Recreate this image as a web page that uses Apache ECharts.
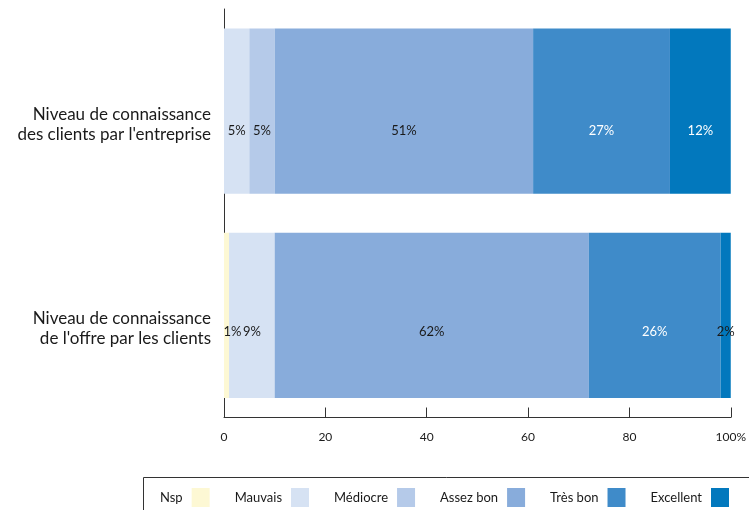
<!DOCTYPE html>
<html>
<head>
<meta charset="utf-8">
<script src="https://cdn.jsdelivr.net/npm/echarts@6/dist/echarts.min.js"></script>
<style>
  html, body { margin: 0; padding: 0; background: #fff; }
  #chart { width: 749px; height: 510px; }
</style>
</head>
<body>
<div id="chart"></div>
<script>
// Survey categories (top to bottom)
const categories = [
  "Niveau de connaissance\ndes clients par l'entreprise",
  "Niveau de connaissance\nde l'offre par les clients"
];
// Share of answers per rating, in %
const seriesNames = ['Nsp', 'Mauvais', 'Médiocre', 'Assez bon', 'Très bon', 'Excellent'];
const nsp       = [0, 1];
const mauvais   = [5, 9];
const mediocre  = [5, 0];
const assezBon  = [51, 62];
const tresBon   = [27, 26];
const excellent = [12, 2];
// Value axis ticks
const xTicks = [0, 20, 40, 60, 80, 100];

const values = [nsp, mauvais, mediocre, assezBon, tresBon, excellent];
const colors = ['#fdf8d4', '#d6e2f3', '#b5cae9', '#88acdb', '#3f8bc9', '#0278bd'];
const labelColors = ['#1a1a1a', '#1a1a1a', '#1a1a1a', '#1a1a1a', '#ffffff', '#ffffff'];
// value labels sit a little below the middle of each bar
const labelDrop = [20, 16];
const FONT = 'Lato, "DejaVu Sans", sans-serif';

const series = seriesNames.map((name, i) => ({
  name,
  type: 'bar',
  stack: 'total',
  barCategoryGap: '19%',
  itemStyle: { color: colors[i] },
  data: values[i].map((v, j) => {
    const label = { offset: [0, labelDrop[j]] };
    // narrow slices whose label spills onto the white background
    if (i === 5 && v < 5) label.color = '#1a1a1a';
    if (i === 0 && v > 0) label.offset = [6, labelDrop[j]];
    return { value: v, label };
  }),
  label: {
    show: true,
    position: 'inside',
    color: labelColors[i],
    fontFamily: FONT,
    fontSize: 13,
    formatter: p => (p.value > 0 ? p.value + '%' : '')
  },
  emphasis: { disabled: true }
}));

const chart = echarts.init(document.getElementById('chart'), null, { renderer: 'canvas' });
chart.setOption({
  animation: false,
  textStyle: { fontFamily: FONT },
  grid: { left: 224, right: 16, top: 9, bottom: 92.5, containLabel: false },
  // frame around the legend
  graphic: [{
    type: 'rect',
    silent: true,
    shape: { x: 143.5, y: 477.5, width: 640, height: 60 },
    style: { fill: 'none', stroke: '#333', lineWidth: 1 }
  }],
  legend: {
    data: seriesNames,
    left: 160,
    top: 477,
    width: 700,
    align: 'right',
    icon: 'rect',
    itemWidth: 18,
    itemHeight: 19,
    itemGap: 25,
    padding: [11, 0, 10, 0],
    selectedMode: false,
    textStyle: { fontFamily: FONT, fontSize: 13, color: '#1a1a1a', padding: [0, 4, 0, 0] }
  },
  xAxis: {
    type: 'value',
    min: xTicks[0],
    max: xTicks[xTicks.length - 1],
    interval: xTicks[1] - xTicks[0],
    axisLine: { show: true, lineStyle: { color: '#333', width: 1 } },
    axisTick: { show: true, inside: true, length: 10, lineStyle: { color: '#333' } },
    splitLine: { show: false },
    axisLabel: {
      color: '#1a1a1a',
      fontSize: 12,
      margin: 14,
      formatter: v => (v === 100 ? '100%' : String(v))
    }
  },
  yAxis: {
    type: 'category',
    inverse: true,
    data: categories,
    axisLine: { show: true, lineStyle: { color: '#333', width: 1 } },
    axisTick: { show: false },
    axisLabel: {
      margin: 13,
      align: 'right',
      // a spacer line pushes the two text lines slightly below the bar centre
      formatter: v => '{gap| }\n' + v.split('\n').map(l => '{t|' + l + '}').join('\n'),
      rich: {
        gap: { fontSize: 4, lineHeight: 27 },
        t: { color: '#1a1a1a', fontFamily: FONT, fontSize: 17, lineHeight: 20 }
      }
    }
  },
  series
});
</script>
</body>
</html>
